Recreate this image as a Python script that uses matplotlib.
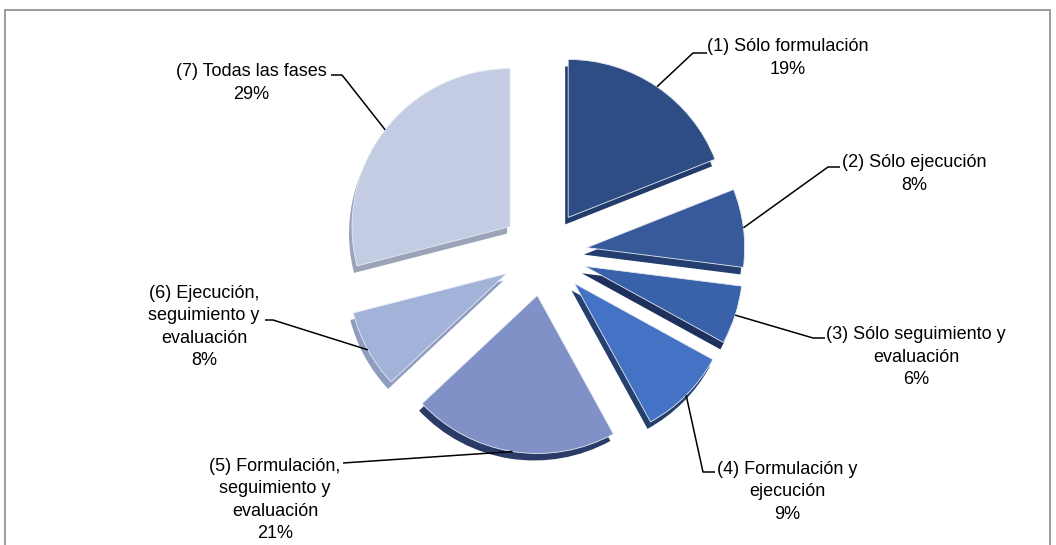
"""Exploded pie with a thin extruded side: participation by project phase."""

import matplotlib

matplotlib.use("Agg")
import numpy as np
import matplotlib.pyplot as plt
from matplotlib.patches import Rectangle

labels = [
    "(1) Sólo formulación",
    "(2) Sólo ejecución",
    "(3) Sólo seguimiento y\nevaluación",
    "(4) Formulación y\nejecución",
    "(5) Formulación,\nseguimiento y\nevaluación",
    "(6) Ejecución,\nseguimiento y\nevaluación",
    "(7) Todas las fases",
]
shares = [19, 8, 6, 9, 21, 8, 29]

top_colors = ["#2E4D84", "#375A9B", "#3A62AA", "#4472C4", "#7F91C6", "#A3B2D8", "#C3CCE2"]
side_colors = ["#223C6C", "#243E70", "#1D315C", "#26406E", "#2A3B68", "#8E9CC0", "#9AA3B8"]

W, H = 1056, 545
CX, CY = 544, H - 253      # pie centre (y up)
R = 158                    # radius in px
GAP = 43                   # radial offset of every slice, px
DEPTH = (-3, -7)           # offset of the extruded side

# label block centre, then line end next to the text and elbow (image px, y down)
label_pos = [(788, 58), (914, 174), (916, 357), (787, 492), (275, 500), (204, 327), (251, 83)]
elbows = [
    [(707, 53), (693, 53)],
    [(840, 167), (828, 167)],
    [(825, 338), (813, 338)],
    [(715, 472), (703, 472)],
    [(343, 463)],
    [(265, 320), (273, 320)],
    [(331, 75), (342, 75)],
]

plt.rcParams["font.family"] = ["Liberation Sans", "DejaVu Sans"]

fig = plt.figure(figsize=(W / 100, H / 100), dpi=100)
ax = fig.add_axes([0, 0, 1, 1])

# extruded side first, then the top faces
ax.pie(shares, colors=side_colors, startangle=90, counterclock=False,
       explode=[GAP] * len(shares), radius=R,
       center=(CX + DEPTH[0], CY + DEPTH[1]),
       wedgeprops=dict(linewidth=0))
wedges, _ = ax.pie(shares, colors=top_colors, startangle=90, counterclock=False,
                   explode=[GAP] * len(shares), radius=R, center=(CX, CY),
                   wedgeprops=dict(linewidth=0.6, edgecolor="#E6EAF2"))

# leader lines from the middle of each arc to its label
for w, pts, pos, lab, v in zip(wedges, elbows, label_pos, labels, shares):
    mid = np.radians((w.theta1 + w.theta2) / 2)
    wx, wy = w.center
    xs = [p[0] for p in pts] + [wx + w.r * np.cos(mid)]
    ys = [H - p[1] for p in pts] + [wy + w.r * np.sin(mid)]
    ax.plot(xs, ys, color="black", linewidth=1.1, solid_capstyle="butt")
    ax.text(pos[0], H - pos[1], f"{lab}\n{v}%", ha="center", va="center",
            multialignment="center", fontsize=13, linespacing=1.4)

# chart area border
ax.add_patch(Rectangle((5, -20), 1045, H - 10 + 20, fill=False,
                       edgecolor="#8C8C8C", linewidth=1.2))

ax.set_xlim(0, W)
ax.set_ylim(0, H)
ax.set_aspect("auto")
ax.axis("off")

fig.savefig("out.png", dpi=100)
